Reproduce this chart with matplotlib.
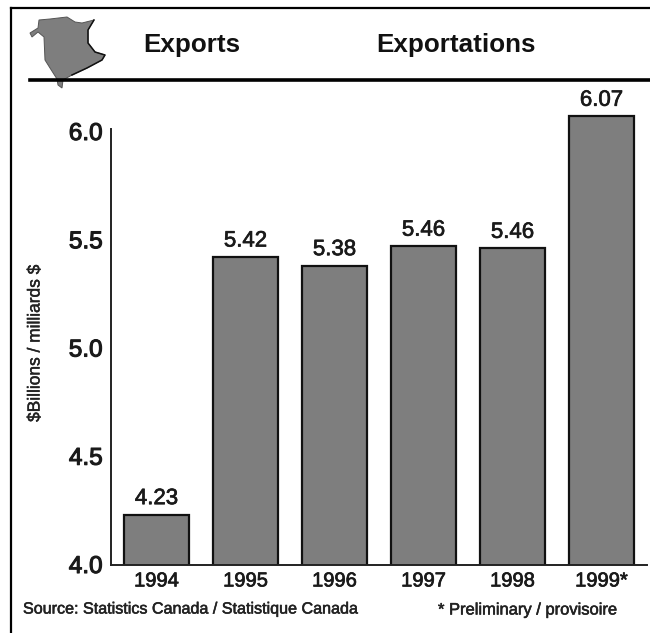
# plot.py
import matplotlib
matplotlib.use("Agg")
import matplotlib.pyplot as plt
import matplotlib.patheffects as pe
from matplotlib.lines import Line2D
from matplotlib.patches import Polygon

plt.rcParams["font.family"] = ["Liberation Sans", "DejaVu Sans"]

W, H = 650, 633

# Datos
years = ["1994", "1995", "1996", "1997", "1998", "1999*"]
bar_heights = [4.23, 5.42, 5.38, 5.47, 5.46, 6.07]
bar_labels = ["4.23", "5.42", "5.38", "5.46", "5.46", "6.07"]
y_ticks = [4.0, 4.5, 5.0, 5.5, 6.0]

# Silueta de la provincia (pixeles de la imagen)
map_outline = [(30, 33), (38, 28), (39, 20), (50, 19), (67, 17), (75, 22), (82, 23),
               (94, 20), (88, 30), (88, 43), (95, 52), (105, 55), (102, 60), (87, 68),
               (72, 75), (63, 80), (62, 88), (58, 85), (57, 79), (50, 68), (45, 60),
               (44, 37), (38, 32), (32, 37)]


def fx(x):
    return x / W


def fy(y):
    return 1 - y / H


def grueso(t, w=0.5):
    # engrosa un poco el texto regular
    t.set_path_effects([pe.withStroke(linewidth=w, foreground=t.get_color())])


fig = plt.figure(figsize=(W / 100, H / 100), dpi=100)

# Ejes: y=4.0 en 564.5 px, 216.5 px por unidad; barras cada 89 px
ax = fig.add_axes([fx(111), fy(564.5), (647 - 111) / W, (564.5 - 90) / H])
ax.set_xlim((111 - 156.5) / 89, (647 - 156.5) / 89)
ax.set_ylim(4.0, 4.0 + (564.5 - 90) / 216.5)

pos = range(len(years))
bars = ax.bar(pos, bar_heights, width=0.725, color="#7e7e7e", edgecolor="#111111", linewidth=1.6)

for x, h, lab in zip(pos, bar_heights, bar_labels):
    t = ax.annotate(lab, (x, h), xytext=(0, 4), textcoords="offset points", ha="center", va="bottom",
                    fontsize=16, color="#1a1a1a")
    grueso(t)

ax.set_xticks(list(pos))
ax.set_xticklabels(years, fontsize=14.5, color="#1a1a1a")
ax.set_yticks(y_ticks)
ax.set_yticklabels([f"{v:.1f}" for v in y_ticks], fontsize=17.5, color="#1a1a1a")
for t in ax.get_xticklabels():
    grueso(t)
for t in ax.get_yticklabels():
    grueso(t, 0.8)
ax.tick_params(length=0, axis="x", pad=5)
ax.tick_params(length=0, axis="y", pad=6)

for s in ["top", "right"]:
    ax.spines[s].set_visible(False)
for s in ["left", "bottom"]:
    ax.spines[s].set_linewidth(1.4)
    ax.spines[s].set_color("#222222")
ax.spines["left"].set_bounds(4.0, 4.0 + (564.5 - 129) / 216.5)

# Marco (solo arriba e izquierda)
fig.add_artist(Line2D([fx(11), fx(11)], [fy(8), fy(633)], color="black", lw=1.6))
fig.add_artist(Line2D([fx(11), fx(650)], [fy(8), fy(8)], color="black", lw=1.6))

# Mapa y linea de cabecera
fig.add_artist(Polygon([(fx(x), fy(y)) for x, y in map_outline], closed=True, transform=fig.transFigure,
                       facecolor="#7e7e7e", edgecolor="#555555", linewidth=0.7))
costa = map_outline[7:15]
fig.add_artist(Line2D([fx(x) for x, y in costa], [fy(y) for x, y in costa], color="#111111", lw=1.1))
fig.add_artist(Line2D([fx(30), fx(649)], [fy(79.5), fy(79.5)], color="black", lw=2.6))

# Textos
fig.text(fx(143), fy(45), "Exports", fontsize=18.7, fontweight="bold", ha="left", va="center", color="#111111")
fig.text(fx(376), fy(45), "Exportations", fontsize=18.7, fontweight="bold", ha="left", va="center", color="#111111")
t = fig.text(fx(35), fy(343), "$Billions / milliards $", fontsize=12.5, rotation=90, ha="center", va="center",
             color="#222222", parse_math=False)
grueso(t, 0.3)
t = fig.text(fx(23), fy(609), "Source: Statistics Canada / Statistique Canada", fontsize=11.6,
             ha="left", va="center", color="#222222")
grueso(t, 0.4)
t = fig.text(fx(438), fy(610), "* Preliminary / provisoire", fontsize=11.9,
             ha="left", va="center", color="#222222")
grueso(t, 0.4)

plt.savefig("out.png", dpi=100)
plt.close()
